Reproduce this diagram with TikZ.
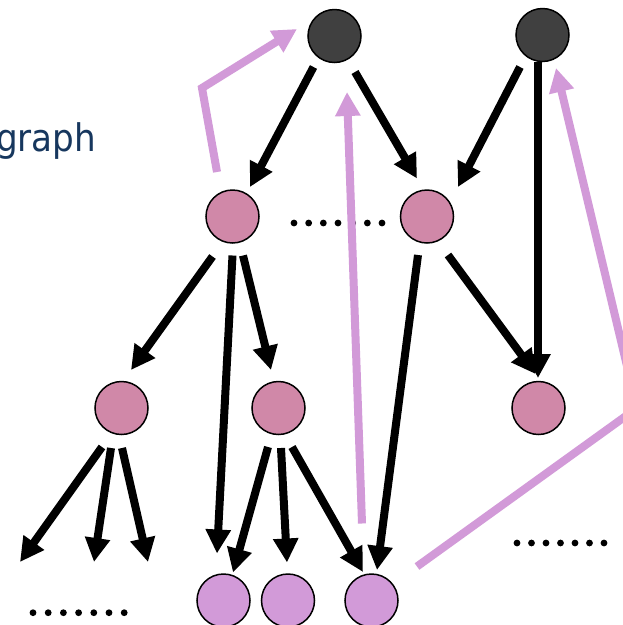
\documentclass[tikz,border=0pt]{standalone}
\usepackage{fontspec}
\newfontfamily\gfont[FakeStretch=0.9]{DejaVu Sans}
\usetikzlibrary{arrows.meta,calc}
\definecolor{darkn}{HTML}{404040}
\definecolor{pinkn}{HTML}{D088A8}
\definecolor{lilac}{HTML}{D29AD8}
\definecolor{navy}{HTML}{17375E}
\begin{document}
\begin{tikzpicture}[x=1pt,y=-1pt,
  nd/.style={circle,draw=black,line width=1.5pt,minimum size=53pt,inner sep=0pt},
  blk/.style={draw=black,line width=8pt,-{Triangle[width=24pt,length=24pt]}},
  lil/.style={draw=lilac,line width=8pt,-{Triangle[width=24pt,length=24pt]}},
  dotm/.style={fill=black}
]
\useasboundingbox (0,0) rectangle (623,625);
\clip (0,0) rectangle (623,625);
\fill[white] (0,0) rectangle (623,625);

\node[anchor=base west, inner sep=0pt, text=navy, font=\gfont\fontsize{38}{40}\selectfont] (t) at (-4,151) {graph};

\node[nd,fill=darkn] (A) at (334.5,36) {};
\node[nd,fill=darkn] (B) at (542.5,35) {};
\node[nd,fill=pinkn] (P1) at (232.5,216.5) {};
\node[nd,fill=pinkn] (P2) at (427,216.5) {};
\node[nd,fill=pinkn] (Q1) at (121.5,408) {};
\node[nd,fill=pinkn] (Q2) at (278.5,408) {};
\node[nd,fill=pinkn] (Q3) at (538.5,408) {};
\node[nd,fill=lilac] (L1) at (223.5,600.5) {};
\node[nd,fill=lilac] (L2) at (288,600.5) {};
\node[nd,fill=lilac] (L3) at (371.5,600.5) {};

\coordinate (e1) at (20,562);
\coordinate (e2) at (94,562);
\coordinate (e3) at (148,562);
\coordinate (c1) at (202,88);
\coordinate (c2) at (637,408);

\draw[blk] ($(A)+(-21,31)$) -- ($(P1)+(17.5,-29.5)$);
\draw[blk] ($(A)+(20.5,36)$) -- ($(P2)+(-10,-38)$);
\draw[blk] ($(B)+(-22.5,32)$) -- ($(P2)+(31,-29.5)$);
\draw[blk] ($(B)+(-4.5,27)$) -- ($(Q3)+(-0.5,-30)$);
\draw[blk] ($(P2)+(21,38.5)$) -- ($(Q3)+(-3,-34)$);
\draw[blk] ($(P2)+(-9,38.5)$) -- ($(L3)+(5.5,-30.5)$);
\draw[blk] ($(P1)+(-20,40)$) -- ($(Q1)+(9.5,-38)$);
\draw[blk] ($(P1)+(0,39)$) -- ($(L1)+(-6.5,-47)$);
\draw[blk] ($(P1)+(10.5,39)$) -- ($(Q2)+(-7.5,-38)$);
\draw[blk] ($(Q1)+(-19.5,39)$) -- (e1);
\draw[blk] ($(Q1)+(-10.5,40)$) -- (e2);
\draw[blk] ($(Q1)+(0.5,40)$) -- (e3);
\draw[blk] ($(Q2)+(-10.5,39)$) -- ($(L1)+(9.5,-28)$);
\draw[blk] ($(Q2)+(2.5,40)$) -- ($(L2)+(-1,-38)$);
\draw[blk] ($(Q2)+(13.5,39)$) -- ($(L3)+(-8.5,-28.5)$);

\foreach \i in {0,...,6} {
  \fill[dotm] (294+\i*14.67,223) circle (3.4pt);
  \fill[dotm] (33+\i*15.2,612.7) circle (3.4pt);
  \fill[dotm] (517+\i*14.5,543) circle (3.4pt);
}

\draw[lil] ($(P1)+(-15.5,-44.5)$) -- (c1) -- ($(A)+(-37.5,-7)$);
\draw[lil] ($(L3)+(-9.5,-77)$) -- ($(A)+(12.5,56)$);
\draw[lil] ($(L3)+(45.5,-34)$) -- (c2) -- ($(B)+(13.5,33)$);
\end{tikzpicture}
\end{document}
